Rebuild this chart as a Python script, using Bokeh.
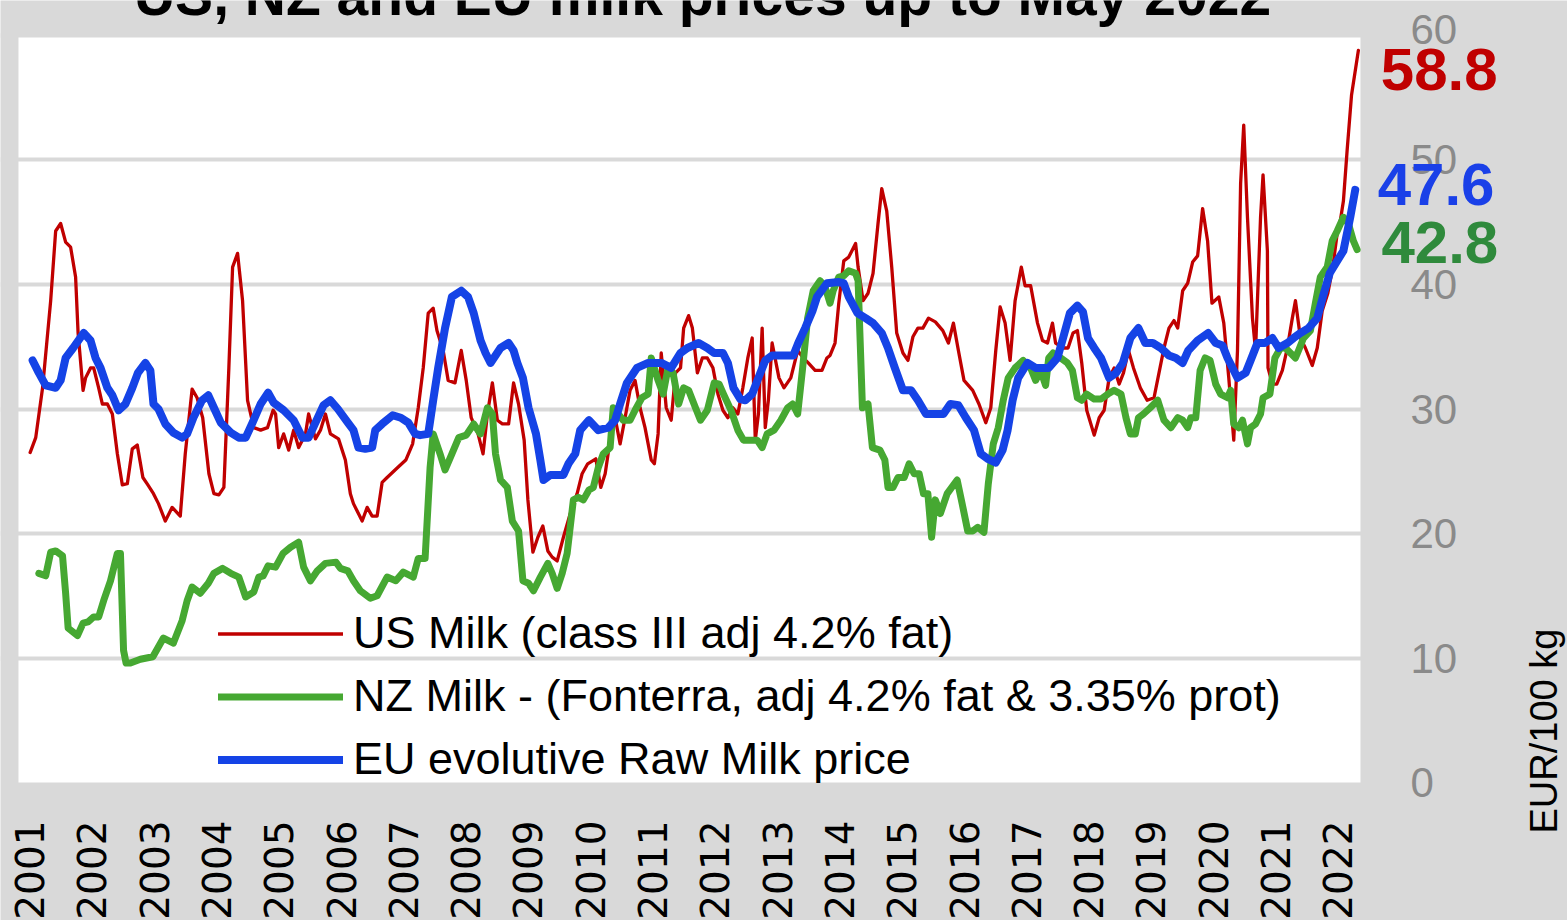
from math import pi
from bokeh.plotting import figure
from bokeh.models import Range1d, FixedTicker
from bokeh.core.properties import value
from bokeh.embed import file_html
from bokeh.resources import INLINE

# ---------------- data (decimal year, EUR/100 kg) ----------------
us_x = [2001.01, 2001.10, 2001.21, 2001.34, 2001.42, 2001.50, 2001.58, 2001.66, 2001.74, 2001.78,
        2001.86, 2001.90, 2001.98, 2002.03, 2002.11, 2002.17, 2002.25, 2002.33, 2002.41, 2002.49,
        2002.57, 2002.65, 2002.73, 2002.82, 2002.90, 2002.99, 2003.07, 2003.18, 2003.29, 2003.42,
        2003.50, 2003.61, 2003.69, 2003.78, 2003.88, 2003.96, 2004.04, 2004.12, 2004.20, 2004.26,
        2004.34, 2004.42, 2004.50, 2004.60, 2004.71, 2004.82, 2004.91, 2004.95, 2005.00, 2005.08,
        2005.16, 2005.24, 2005.32, 2005.43, 2005.48, 2005.59, 2005.67, 2005.75, 2005.83, 2005.96,
        2006.07, 2006.15, 2006.20, 2006.34, 2006.42, 2006.50, 2006.58, 2006.66, 2006.74, 2006.91,
        2007.04, 2007.15, 2007.24, 2007.32, 2007.40, 2007.48, 2007.54, 2007.64, 2007.72, 2007.83,
        2007.93, 2008.01, 2008.09, 2008.20, 2008.28, 2008.35, 2008.43, 2008.51, 2008.59, 2008.69,
        2008.77, 2008.85, 2008.94, 2009.00, 2009.08, 2009.16, 2009.24, 2009.32, 2009.39, 2009.47,
        2009.57, 2009.68, 2009.79, 2009.87, 2009.96, 2010.09, 2010.17, 2010.24, 2010.32, 2010.40,
        2010.48, 2010.56, 2010.64, 2010.72, 2010.80, 2010.88, 2010.98, 2011.03, 2011.09, 2011.14,
        2011.22, 2011.30, 2011.37, 2011.45, 2011.50, 2011.58, 2011.64, 2011.72, 2011.80, 2011.88,
        2011.97, 2012.05, 2012.13, 2012.21, 2012.29, 2012.37, 2012.45, 2012.53, 2012.60, 2012.65,
        2012.70, 2012.76, 2012.81, 2012.86, 2012.92, 2013.03, 2013.11, 2013.22, 2013.33, 2013.42,
        2013.50, 2013.61, 2013.72, 2013.80, 2013.85, 2013.93, 2013.99, 2014.07, 2014.15, 2014.26,
        2014.30, 2014.38, 2014.46, 2014.54, 2014.62, 2014.68, 2014.76, 2014.84, 2014.92, 2015.02,
        2015.10, 2015.18, 2015.26, 2015.34, 2015.43, 2015.54, 2015.66, 2015.75, 2015.83, 2015.91,
        2016.00, 2016.14, 2016.24, 2016.35, 2016.43, 2016.51, 2016.58, 2016.66, 2016.74, 2016.82,
        2016.92, 2016.98, 2017.07, 2017.18, 2017.26, 2017.34, 2017.42, 2017.47, 2017.59, 2017.67,
        2017.75, 2017.82, 2017.89, 2017.97, 2018.09, 2018.17, 2018.25, 2018.33, 2018.41, 2018.49,
        2018.56, 2018.64, 2018.72, 2018.83, 2018.94, 2019.05, 2019.13, 2019.21, 2019.29, 2019.37,
        2019.43, 2019.51, 2019.59, 2019.67, 2019.75, 2019.83, 2019.91, 2019.98, 2020.09, 2020.17,
        2020.25, 2020.33, 2020.39, 2020.44, 2020.49, 2020.55, 2020.63, 2020.68, 2020.76, 2020.80,
        2020.87, 2020.88, 2020.95, 2021.02, 2021.11, 2021.19, 2021.27, 2021.32, 2021.40, 2021.48,
        2021.59, 2021.67, 2021.75, 2021.84, 2021.92, 2021.99, 2022.04, 2022.09, 2022.15, 2022.22,
        2022.33]
us_y = [26.5, 27.7, 31.7, 38.7, 44.3, 44.9, 43.4, 43.0, 40.6, 36.1,
        31.5, 32.5, 33.3, 33.3, 31.7, 30.4, 30.4, 29.6, 26.4, 23.9,
        24.0, 26.8, 27.1, 24.5, 23.9, 23.2, 22.4, 21.0, 22.1, 21.4,
        26.4, 31.6, 30.9, 29.3, 24.8, 23.2, 23.1, 23.7, 33.3, 41.4,
        42.5, 38.7, 30.7, 28.5, 28.3, 28.5, 29.9, 29.6, 26.9, 28.0,
        26.7, 28.3, 26.9, 28.0, 29.6, 27.6, 28.3, 29.6, 28.0, 27.6,
        25.9, 23.2, 22.4, 21.0, 22.1, 21.4, 21.4, 24.1, 24.5, 25.3,
        25.9, 27.2, 30.1, 33.3, 37.7, 38.1, 36.3, 34.7, 32.3, 32.1,
        34.7, 32.3, 29.3, 28.0, 26.4, 29.6, 32.1, 29.1, 28.8, 28.8,
        32.1, 30.4, 27.5, 22.7, 18.5, 19.7, 20.6, 18.6, 18.1, 17.8,
        19.7, 21.6, 23.2, 24.8, 25.6, 26.0, 23.7, 24.8, 27.5, 29.3,
        27.2, 29.3, 31.5, 32.3, 30.1, 28.5, 25.9, 25.6, 28.0, 34.5,
        30.1, 29.1, 32.9, 33.3, 36.5, 37.5, 36.5, 32.9, 34.1, 34.1,
        33.3, 31.2, 29.9, 29.3, 30.1, 29.6, 31.7, 34.1, 35.7, 27.5,
        29.6, 36.5, 28.5, 30.7, 35.3, 32.5, 31.7, 32.5, 34.7, 34.1,
        33.7, 33.1, 33.1, 34.1, 34.3, 35.3, 38.5, 41.9, 42.2, 43.3,
        41.4, 38.7, 39.3, 40.9, 44.9, 47.7, 45.9, 41.4, 36.1, 34.5,
        33.9, 35.8, 36.5, 36.5, 37.3, 37.0, 36.3, 35.3, 36.9, 34.7,
        32.3, 31.5, 30.4, 28.9, 30.1, 34.7, 38.2, 36.9, 33.9, 38.7,
        41.4, 39.9, 39.9, 36.9, 35.5, 35.3, 36.9, 35.3, 34.9, 34.9,
        36.1, 36.3, 33.7, 29.9, 27.9, 29.3, 29.9, 32.5, 33.3, 32.0,
        32.9, 34.7, 33.3, 31.7, 30.7, 30.9, 32.9, 34.9, 36.5, 37.1,
        36.5, 39.5, 40.1, 41.8, 42.3, 46.1, 43.5, 38.5, 39.0, 36.9,
        32.5, 27.5, 34.7, 48.1, 52.8, 45.4, 37.3, 34.7, 45.4, 48.8,
        42.7, 33.3, 32.0, 32.0, 33.1, 34.9, 37.3, 38.7, 35.7, 34.9,
        33.5, 34.9, 37.9, 39.3, 41.4, 44.1, 45.1, 46.7, 50.8, 55.2,
        58.8]

nz_x = [2001.15, 2001.26, 2001.34, 2001.42, 2001.53, 2001.58, 2001.62, 2001.77, 2001.86, 2001.94,
        2002.03, 2002.11, 2002.19, 2002.30, 2002.41, 2002.46, 2002.51, 2002.55, 2002.62, 2002.78,
        2002.98, 2003.15, 2003.31, 2003.45, 2003.53, 2003.61, 2003.74, 2003.87, 2003.96, 2004.10,
        2004.23, 2004.36, 2004.47, 2004.60, 2004.68, 2004.75, 2004.83, 2004.95, 2005.07, 2005.19,
        2005.32, 2005.40, 2005.51, 2005.62, 2005.75, 2005.92, 2005.99, 2006.11, 2006.20, 2006.31,
        2006.47, 2006.58, 2006.74, 2006.88, 2007.00, 2007.16, 2007.24, 2007.35, 2007.43, 2007.48,
        2007.59, 2007.67, 2007.78, 2007.89, 2008.01, 2008.13, 2008.24, 2008.35, 2008.43, 2008.48,
        2008.56, 2008.67, 2008.75, 2008.85, 2008.92, 2009.01, 2009.09, 2009.20, 2009.32, 2009.39,
        2009.47, 2009.55, 2009.63, 2009.73, 2009.81, 2009.89, 2009.98, 2010.05, 2010.13, 2010.21,
        2010.32, 2010.37, 2010.45, 2010.53, 2010.64, 2010.72, 2010.83, 2010.93, 2010.98, 2011.09,
        2011.17, 2011.25, 2011.33, 2011.42, 2011.50, 2011.58, 2011.69, 2011.77, 2011.88, 2011.99,
        2012.07, 2012.14, 2012.26, 2012.37, 2012.46, 2012.60, 2012.68, 2012.76, 2012.84, 2012.95,
        2013.06, 2013.17, 2013.25, 2013.33, 2013.41, 2013.49, 2013.58, 2013.69, 2013.77, 2013.85,
        2013.90, 2013.99, 2014.07, 2014.15, 2014.26, 2014.30, 2014.37, 2014.46, 2014.53, 2014.65,
        2014.73, 2014.78, 2014.86, 2014.94, 2015.04, 2015.12, 2015.20, 2015.28, 2015.35, 2015.42,
        2015.48, 2015.54, 2015.62, 2015.73, 2015.89, 2015.97, 2016.06, 2016.14, 2016.22, 2016.32,
        2016.39, 2016.47, 2016.55, 2016.63, 2016.71, 2016.82, 2016.95, 2017.07, 2017.15, 2017.23,
        2017.31, 2017.36, 2017.43, 2017.55, 2017.66, 2017.74, 2017.82, 2017.89, 2017.97, 2018.09,
        2018.20, 2018.31, 2018.41, 2018.52, 2018.60, 2018.67, 2018.75, 2018.80, 2018.88, 2018.99,
        2019.11, 2019.21, 2019.32, 2019.43, 2019.51, 2019.59, 2019.64, 2019.72, 2019.79, 2019.87,
        2019.95, 2020.04, 2020.12, 2020.23, 2020.28, 2020.33, 2020.41, 2020.47, 2020.55, 2020.60,
        2020.68, 2020.76, 2020.80, 2020.91, 2020.99, 2021.08, 2021.16, 2021.24, 2021.32, 2021.37,
        2021.45, 2021.56, 2021.64, 2021.72, 2021.83, 2021.91, 2021.99, 2022.09, 2022.17, 2022.25,
        2022.31]
nz_y = [16.8, 16.6, 18.5, 18.6, 18.2, 15.2, 12.4, 11.8, 12.8, 12.9,
        13.3, 13.3, 14.6, 16.2, 18.4, 18.4, 10.6, 9.6, 9.6, 9.9,
        10.1, 11.6, 11.2, 13.0, 14.6, 15.7, 15.2, 16.0, 16.8, 17.2,
        16.8, 16.5, 14.9, 15.3, 16.5, 16.6, 17.4, 17.3, 18.4, 18.9,
        19.3, 17.3, 16.2, 17.0, 17.6, 17.7, 17.2, 17.0, 16.2, 15.4,
        14.8, 15.0, 16.5, 16.2, 16.9, 16.5, 18.0, 18.0, 25.3, 28.0,
        26.4, 25.1, 26.4, 27.7, 27.9, 28.8, 28.0, 30.1, 29.6, 26.4,
        24.3, 23.7, 21.0, 20.2, 16.2, 16.0, 15.4, 16.5, 17.6, 16.8,
        15.6, 16.8, 18.4, 22.7, 22.9, 22.7, 23.5, 23.7, 25.3, 26.4,
        26.9, 30.1, 29.6, 29.1, 29.1, 29.9, 30.9, 31.2, 34.1, 32.3,
        31.2, 33.3, 32.9, 30.4, 31.7, 31.5, 30.1, 29.1, 29.9, 32.1,
        32.0, 31.2, 29.9, 28.3, 27.5, 27.5, 27.5, 26.9, 28.0, 28.3,
        29.1, 30.1, 30.4, 29.6, 33.3, 37.3, 39.5, 40.3, 39.8, 38.5,
        39.5, 40.6, 40.7, 41.1, 40.9, 40.3, 30.1, 30.4, 26.9, 26.7,
        25.9, 23.7, 23.7, 24.5, 24.5, 25.6, 24.8, 24.8, 23.2, 23.2,
        19.7, 22.7, 21.6, 23.2, 24.3, 22.4, 20.2, 20.2, 20.5, 20.1,
        24.0, 27.2, 28.5, 30.7, 32.5, 33.3, 33.9, 33.3, 32.3, 33.1,
        31.9, 34.1, 34.5, 34.1, 33.7, 33.1, 30.9, 30.7, 31.2, 30.8,
        30.8, 31.2, 31.5, 31.2, 29.3, 28.0, 28.0, 29.3, 29.6, 30.1,
        30.7, 29.1, 28.5, 29.3, 29.1, 28.5, 29.3, 29.3, 33.1, 34.1,
        33.9, 32.0, 31.2, 30.9, 31.5, 28.8, 28.5, 29.1, 27.2, 28.5,
        28.8, 29.6, 30.9, 31.2, 34.1, 34.9, 34.9, 34.5, 34.1, 34.7,
        35.7, 36.3, 38.5, 40.6, 41.4, 43.5, 44.3, 45.4, 44.9, 43.5,
        42.8]

eu_x = [2001.05, 2001.15, 2001.26, 2001.42, 2001.50, 2001.58, 2001.70, 2001.87, 2001.98, 2002.06,
        2002.14, 2002.25, 2002.33, 2002.43, 2002.54, 2002.65, 2002.74, 2002.86, 2002.94, 2002.99,
        2003.07, 2003.18, 2003.31, 2003.45, 2003.53, 2003.63, 2003.77, 2003.87, 2003.96, 2004.07,
        2004.23, 2004.36, 2004.47, 2004.58, 2004.71, 2004.83, 2004.92, 2005.08, 2005.24, 2005.32,
        2005.38, 2005.48, 2005.59, 2005.72, 2005.83, 2005.95, 2006.11, 2006.20, 2006.28, 2006.39,
        2006.50, 2006.55, 2006.66, 2006.83, 2006.96, 2007.08, 2007.19, 2007.27, 2007.40, 2007.48,
        2007.56, 2007.67, 2007.78, 2007.93, 2008.04, 2008.13, 2008.24, 2008.32, 2008.40, 2008.56,
        2008.69, 2008.77, 2008.83, 2008.92, 2009.01, 2009.13, 2009.20, 2009.25, 2009.36, 2009.57,
        2009.65, 2009.76, 2009.84, 2009.98, 2010.13, 2010.29, 2010.40, 2010.48, 2010.59, 2010.75,
        2010.93, 2011.14, 2011.30, 2011.45, 2011.56, 2011.74, 2011.88, 2011.99, 2012.13, 2012.21,
        2012.30, 2012.41, 2012.49, 2012.60, 2012.70, 2012.81, 2012.92, 2013.11, 2013.26, 2013.34,
        2013.45, 2013.57, 2013.64, 2013.80, 2013.99, 2014.07, 2014.15, 2014.29, 2014.42, 2014.54,
        2014.68, 2014.78, 2014.89, 2015.02, 2015.15, 2015.26, 2015.39, 2015.67, 2015.78, 2015.91,
        2016.03, 2016.16, 2016.27, 2016.38, 2016.51, 2016.62, 2016.70, 2016.78, 2016.87, 2017.02,
        2017.15, 2017.36, 2017.50, 2017.59, 2017.70, 2017.82, 2017.91, 2017.99, 2018.09, 2018.20,
        2018.33, 2018.44, 2018.55, 2018.67, 2018.80, 2018.91, 2019.03, 2019.16, 2019.29, 2019.40,
        2019.51, 2019.60, 2019.75, 2019.92, 2020.04, 2020.15, 2020.23, 2020.39, 2020.52, 2020.60,
        2020.71, 2020.83, 2020.95, 2021.05, 2021.19, 2021.29, 2021.40, 2021.53, 2021.67, 2021.76,
        2021.87, 2021.99, 2022.09, 2022.20, 2022.28]
eu_y = [33.9, 32.9, 31.9, 31.7, 32.3, 34.1, 34.9, 36.1, 35.5, 34.1,
        33.3, 31.7, 31.1, 29.9, 30.4, 31.7, 32.9, 33.7, 33.1, 30.4,
        30.0, 28.8, 28.1, 27.7, 28.0, 29.3, 30.7, 31.1, 30.1, 28.9,
        28.1, 27.7, 27.7, 28.9, 30.4, 31.3, 30.5, 29.9, 29.1, 28.3,
        27.7, 27.7, 28.9, 30.3, 30.7, 30.0, 28.9, 28.3, 26.9, 26.8,
        26.9, 28.3, 28.8, 29.5, 29.3, 28.9, 28.0, 27.9, 28.0, 30.7,
        33.3, 36.5, 39.0, 39.5, 39.0, 37.7, 35.5, 34.5, 33.7, 34.9,
        35.3, 34.7, 33.7, 32.5, 30.1, 28.0, 25.9, 24.3, 24.7, 24.7,
        25.6, 26.4, 28.3, 29.1, 28.3, 28.5, 29.1, 30.4, 32.1, 33.3,
        33.7, 33.7, 33.3, 34.5, 34.9, 35.3, 34.9, 34.5, 34.5, 33.7,
        31.7, 30.8, 30.7, 31.2, 32.5, 33.9, 34.3, 34.3, 34.3, 35.3,
        36.5, 37.9, 39.0, 40.1, 40.2, 40.1, 39.0, 37.7, 37.3, 36.9,
        36.1, 34.9, 33.3, 31.5, 31.5, 30.7, 29.6, 29.6, 30.4, 30.3,
        29.3, 28.3, 26.4, 26.0, 25.7, 26.7, 28.3, 30.7, 32.5, 33.7,
        33.3, 33.3, 34.1, 35.7, 37.7, 38.3, 37.8, 35.7, 34.9, 34.1,
        32.5, 32.9, 33.7, 35.7, 36.5, 35.3, 35.3, 34.9, 34.3, 34.1,
        33.7, 34.7, 35.5, 36.1, 35.3, 35.1, 34.1, 32.5, 32.9, 33.9,
        35.3, 35.3, 35.7, 34.9, 35.3, 35.7, 36.1, 36.5, 37.3, 39.0,
        40.9, 41.9, 42.7, 45.4, 47.6]

years = list(range(2001, 2023))
year_labels = [str(y) for y in years]
y_ticks = [0, 10, 20, 30, 40, 50, 60]
y_tick_labels = [str(t) for t in y_ticks]
series_names = ["US Milk (class III adj 4.2% fat)",
                "NZ Milk - (Fonterra, adj 4.2% fat & 3.35% prot)",
                "EU evolutive Raw Milk price"]
title_text = "US, NZ and EU milk prices up to May 2022"
unit_text = "EUR/100 kg"

# ---------------- styles / layout ----------------
GRAY = "#d9d9d9"
RED = "#c00000"
GREEN = "#46a832"
BLUE = "#1543e6"
RED_TXT = "#c00000"
BLUE_TXT = "#1a40e8"
GREEN_TXT = "#2f8a3c"

# plotting area (white) in data units; the frame covers the whole canvas
X0, X1 = 2000.823, 2022.364
Y0, Y1 = 0, 60

p = figure(width=1567, height=920, output_backend="svg", toolbar_location=None,
           x_range=Range1d(2000.5345, 2025.687), y_range=Range1d(-11.084, 62.811),
           x_axis_location=None, y_axis_location=None, min_border=0)
p.background_fill_color = GRAY
p.border_fill_color = GRAY
p.outline_line_color = None
p.xgrid.visible = False
p.ygrid.ticker = FixedTicker(ticks=y_ticks[1:])
p.ygrid.grid_line_color = GRAY
p.ygrid.grid_line_width = 4

# white plotting area, drawn below the grid
p.quad(left=[X0], right=[X1], bottom=[Y0], top=[Y1], fill_color="white",
       line_color=None, level="image")

# series
p.line(us_x, us_y, line_color=RED, line_width=3.3, line_join="round", line_cap="round",
       legend_label=series_names[0])
p.line(nz_x, nz_y, line_color=GREEN, line_width=7, line_join="round", line_cap="round",
       legend_label=series_names[1])
p.line(eu_x, eu_y, line_color=BLUE, line_width=8, line_join="round", line_cap="round",
       legend_label=series_names[2])

# legend
lg = p.legend[0]
lg.location = (218, 130.5)
lg.padding = 0
lg.margin = 0
lg.spacing = 2
lg.glyph_width = 125
lg.glyph_height = 61
lg.label_height = 61
lg.label_standoff = 10
lg.border_line_color = None
lg.background_fill_alpha = 0
lg.label_text_font = "Liberation Sans"
lg.label_text_font_size = "45px"
lg.label_text_color = "black"

# y tick labels (right side, gray); the top one sits a little higher, as in the reference
Y_LABEL_X = 2023.167
y_label_nudge = [0, 0, 0, 0, 0, 0, 0.5]
p.text(x=[Y_LABEL_X] * len(y_ticks), y=[t + n for t, n in zip(y_ticks, y_label_nudge)],
       text=y_tick_labels, text_align="left", text_baseline="middle",
       text_font=value("Liberation Sans"), text_font_size=value("42px"),
       text_color="#8a8a8a")

# x tick labels (years, rotated)
X_LABEL_Y = -3.05
p.text(x=years, y=[X_LABEL_Y] * len(years), text=year_labels, angle=pi / 2,
       text_align="right", text_baseline="middle",
       text_font=value("DejaVu Sans"), text_font_size=value("39px"),
       text_color="black")

# end-value labels, placed next to the last point of each series
ends = [(us_x[-1] + 0.36, us_y[-1] - 1.53, us_y[-1], RED_TXT),
        (eu_x[-1] + 0.36, eu_y[-1] + 0.43, eu_y[-1], BLUE_TXT),
        (nz_x[-1] + 0.39, nz_y[-1] + 0.57, nz_y[-1], GREEN_TXT)]
for ex, ey, ev, col in ends:
    p.text(x=[ex], y=[ey], text=[f"{ev:.1f}"], text_align="left", text_baseline="middle",
           text_font=value("Liberation Sans"), text_font_style="bold",
           text_font_size=value("60px"), text_color=col)

# title (cut off at the top, as in the reference)
p.text(x=[2011.803], y=[63.29], text=[title_text], text_align="center",
       text_baseline="middle", text_font=value("Liberation Sans"),
       text_font_style="bold", text_font_size=value("57px"), text_color="black")

# unit label (rotated, right side)
p.text(x=[2025.314], y=[-4.097], text=[unit_text], angle=pi / 2, text_align="left",
       text_baseline="middle", text_font=value("Liberation Sans"),
       text_font_size=value("38px"), text_color="black")

open("out.html", "w").write(file_html(p, INLINE))
